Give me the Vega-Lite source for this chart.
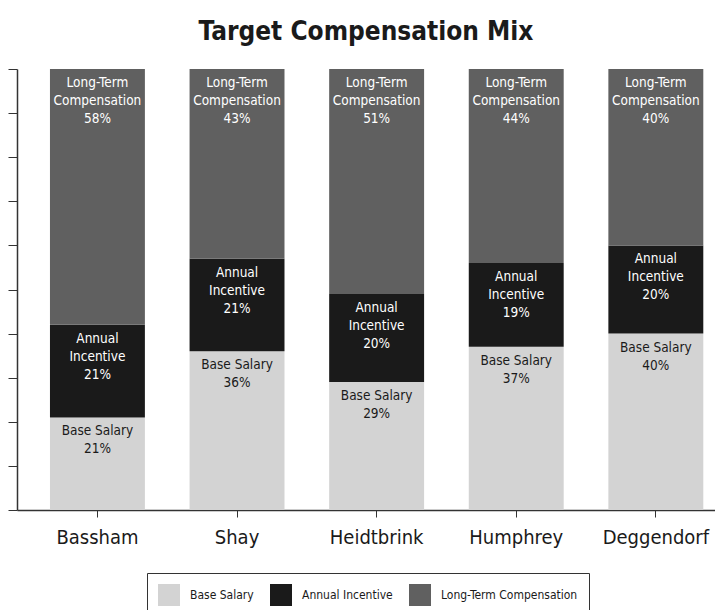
{
  "$schema": "https://vega.github.io/schema/vega-lite/v6.json",
  "width": 698,
  "height": 441,
  "autosize": {"type": "none"},
  "padding": {"left": 17, "top": 69, "right": 0, "bottom": 100},
  "background": "white",
  "title": {
    "text": "Target Compensation Mix",
    "font": "'DejaVu Sans Condensed', Roboto, sans-serif",
    "fontSize": 26,
    "fontWeight": "bold",
    "color": "#1a1a1a",
    "anchor": "middle",
    "offset": 24
  },
  "config": {
    "view": {"stroke": null},
    "font": "'DejaVu Sans Condensed', Roboto, sans-serif"
  },
  "data": {
    "values": [
      {"name": "Bassham", "component": "Base Salary", "rank": 1, "value": 21, "label": "Base Salary\n21%"},
      {"name": "Bassham", "component": "Annual Incentive", "rank": 2, "value": 21, "label": "Annual\nIncentive\n21%"},
      {"name": "Bassham", "component": "Long-Term Compensation", "rank": 3, "value": 58, "label": "Long-Term\nCompensation\n58%"},
      {"name": "Shay", "component": "Base Salary", "rank": 1, "value": 36, "label": "Base Salary\n36%"},
      {"name": "Shay", "component": "Annual Incentive", "rank": 2, "value": 21, "label": "Annual\nIncentive\n21%"},
      {"name": "Shay", "component": "Long-Term Compensation", "rank": 3, "value": 43, "label": "Long-Term\nCompensation\n43%"},
      {"name": "Heidtbrink", "component": "Base Salary", "rank": 1, "value": 29, "label": "Base Salary\n29%"},
      {"name": "Heidtbrink", "component": "Annual Incentive", "rank": 2, "value": 20, "label": "Annual\nIncentive\n20%"},
      {"name": "Heidtbrink", "component": "Long-Term Compensation", "rank": 3, "value": 51, "label": "Long-Term\nCompensation\n51%"},
      {"name": "Humphrey", "component": "Base Salary", "rank": 1, "value": 37, "label": "Base Salary\n37%"},
      {"name": "Humphrey", "component": "Annual Incentive", "rank": 2, "value": 19, "label": "Annual\nIncentive\n19%"},
      {"name": "Humphrey", "component": "Long-Term Compensation", "rank": 3, "value": 44, "label": "Long-Term\nCompensation\n44%"},
      {"name": "Deggendorf", "component": "Base Salary", "rank": 1, "value": 40, "label": "Base Salary\n40%"},
      {"name": "Deggendorf", "component": "Annual Incentive", "rank": 2, "value": 20, "label": "Annual\nIncentive\n20%"},
      {"name": "Deggendorf", "component": "Long-Term Compensation", "rank": 3, "value": 40, "label": "Long-Term\nCompensation\n40%"}
    ]
  },
  "transform": [
    {"stack": "value", "groupby": ["name"], "sort": [{"field": "rank", "order": "ascending"}], "as": ["y0", "y1"]}
  ],
  "encoding": {
    "x": {
      "field": "name",
      "type": "nominal",
      "sort": null,
      "scale": {"paddingInner": 0.32, "paddingOuter": 0.16, "align": 0.738},
      "axis": {
        "title": null,
        "labelAngle": 0,
        "labelFontSize": 20,
        "labelColor": "#1a1a1a",
        "labelPadding": 10,
        "domainColor": "#333",
        "domainWidth": 1.5,
        "tickColor": "#333",
        "tickSize": 7,
        "tickWidth": 1
      }
    }
  },
  "layer": [
    {
      "mark": {"type": "bar"},
      "encoding": {
        "y": {
          "field": "y0",
          "type": "quantitative",
          "scale": {"domain": [0, 100], "nice": false},
          "axis": {
            "title": null,
            "labels": false,
            "grid": false,
            "values": [0, 10, 20, 30, 40, 50, 60, 70, 80, 90, 100],
            "domainColor": "#333",
            "domainWidth": 1.5,
            "tickColor": "#333",
            "tickSize": 9,
            "tickWidth": 1
          }
        },
        "y2": {"field": "y1"},
        "color": {
          "field": "component",
          "type": "nominal",
          "scale": {
            "domain": ["Base Salary", "Annual Incentive", "Long-Term Compensation"],
            "range": ["#d3d3d3", "#1a1a1a", "#606060"]
          },
          "legend": {
            "title": null,
            "orient": "none",
            "direction": "horizontal",
            "legendX": 130,
            "legendY": 504,
            "symbolType": "square",
            "symbolSize": 484,
            "symbolStrokeWidth": 0,
            "symbolOpacity": 1,
            "labelFontSize": 12,
            "labelColor": "#1a1a1a",
            "labelOffset": 10,
            "columnPadding": 16,
            "padding": 11,
            "strokeColor": "#333",
            "fillColor": "white"
          }
        }
      }
    },
    {
      "mark": {
        "type": "text",
        "baseline": "top",
        "align": "center",
        "dy": 7,
        "fontSize": 13.5,
        "lineHeight": 18,
        "lineBreak": "\n"
      },
      "encoding": {
        "y": {"field": "y1", "type": "quantitative"},
        "text": {"field": "label"},
        "color": {
          "condition": {"test": "datum.component === 'Base Salary'", "value": "#1a1a1a"},
          "value": "white"
        }
      }
    }
  ]
}
